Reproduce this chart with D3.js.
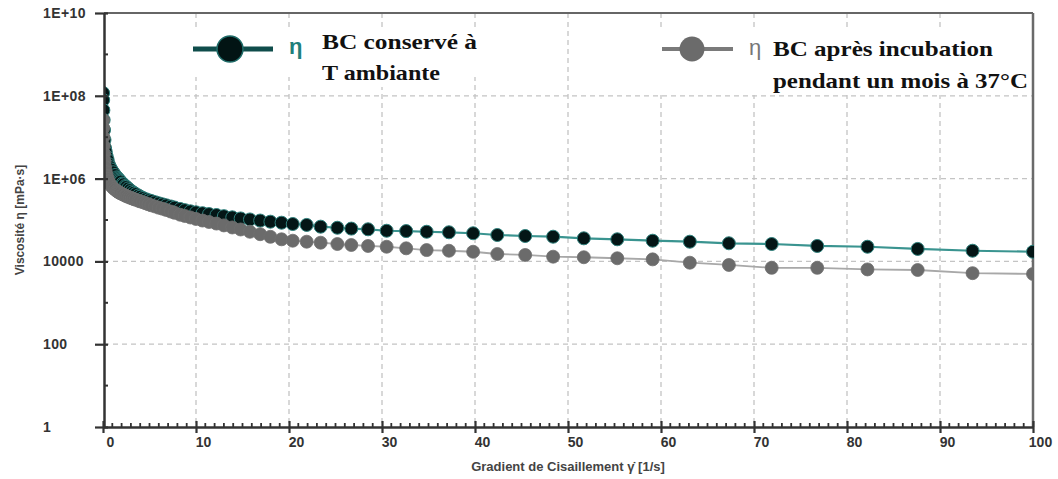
<!DOCTYPE html>
<html>
<head>
<meta charset="utf-8">
<script src="https://cdn.jsdelivr.net/npm/d3@7"></script>
<style>
  html, body { margin: 0; padding: 0; background: #fff; }
  svg { display: block; }
</style>
</head>
<body>
<svg id="chart" width="1058" height="479"></svg>
<script>
// Shear rate (1/s), shared by both flow curves
const shearRate = [0.01,0.02,0.04,0.07,0.11,0.16,0.22,0.3,0.4,0.5,0.6,0.75,0.9,
  1.1,1.3,1.5,1.6,1.7,1.8,1.9,2.1,2.2,2.4,2.5,2.7,2.9,3.1,3.3,3.5,3.8,4.0,4.3,4.6,4.9,
  5.2,5.6,6.0,6.4,6.8,7.3,7.7,8.3,8.8,9.4,10.0,10.7,11.4,12.2,13.0,13.9,14.8,15.8,16.9,
  18.0,19.2,20.4,21.9,23.4,25.2,26.7,28.5,30.5,32.6,34.8,37.2,39.8,42.4,45.4,48.4,51.7,
  55.3,59.1,63.1,67.3,71.9,76.8,82.2,87.6,93.5,100];

// Viscosity (mPa·s), BC stored at room temperature
const etaAmbient = [1.17e8,7.9e7,4.5e7,2.6e7,1.49e7,8.6e6,5.5e6,4.4e6,3.42e6,2.81e6,2.25e6,1.91e6,1.66e6,
  1.42e6,1.22e6,1.07e6,1.01e6,9.5e5,9.0e5,8.5e5,7.6e5,7.3e5,6.6e5,6.3e5,5.8e5,5.3e5,
  4.88e5,4.56e5,4.25e5,3.91e5,3.67e5,3.40e5,3.18e5,3.01e5,2.88e5,2.69e5,2.53e5,2.39e5,2.26e5,
  2.12e5,2.00e5,1.85e5,1.73e5,1.62e5,1.53e5,1.46e5,1.39e5,1.32e5,1.24e5,1.16e5,1.09e5,1.03e5,
  9.7e4,9.1e4,8.6e4,8.0e4,7.6e4,6.9e4,6.5e4,6.2e4,5.96e4,5.5e4,5.4e4,5.2e4,5.05e4,4.78e4,
  4.34e4,4.11e4,3.95e4,3.61e4,3.42e4,3.16e4,2.99e4,2.74e4,2.63e4,2.36e4,2.26e4,2.0e4,1.81e4,1.71e4];

// Viscosity (mPa·s), BC after one month of incubation at 37 °C
const etaIncubated = [2.6e7,1.67e7,1.01e7,6.1e6,3.93e6,2.66e6,1.91e6,1.44e6,1.16e6,9.8e5,8.5e5,7.4e5,6.6e5,
  5.9e5,5.4e5,5.0e5,4.85e5,4.69e5,4.54e5,4.42e5,4.2e5,4.08e5,3.88e5,3.80e5,3.63e5,3.48e5,
  3.34e5,3.21e5,3.09e5,2.92e5,2.81e5,2.68e5,2.53e5,2.39e5,2.26e5,2.12e5,1.98e5,1.87e5,1.75e5,
  1.60e5,1.49e5,1.34e5,1.25e5,1.15e5,1.06e5,9.7e4,8.95e4,8.2e4,7.4e4,6.6e4,5.9e4,5.2e4,
  4.54e4,3.93e4,3.42e4,3.16e4,2.99e4,2.83e4,2.63e4,2.49e4,2.36e4,2.26e4,2.07e4,1.88e4,1.81e4,
  1.71e4,1.51e4,1.43e4,1.30e4,1.26e4,1.19e4,1.12e4,9.3e3,8.2e3,7.0e3,7.0e3,6.4e3,6.2e3,5.2e3,4.97e3];

// Axis ticks
const yTickValues = [1, 1e2, 1e4, 1e6, 1e8, 1e10];
const yTickLabels = ["1", "100", "10000", "1E+06", "1E+08", "1E+10"];
const yMinorValues = [1e1, 1e3, 1e5, 1e7, 1e9];
const xTickValues = [0, 10, 20, 30, 40, 50, 60, 70, 80, 90, 100];
const xTickLabels = ["0", "10", "20", "30", "40", "50", "60", "70", "80", "90", "100"];

// Legend
const seriesNames = [["BC conservé à", "T ambiante"], ["BC après incubation", "pendant un mois à 37°C"]];
const xTitle = "Gradient de Cisaillement γ̇ [1/s]";
const yTitle = "Viscosité η [mPa·s]";

const svg = d3.select("#chart");
const L = 104, R = 1033, T = 13, B = 427;

const x = d3.scaleLinear().domain([0, 100]).range([L - 1, R]);
const y = d3.scaleLog().domain([1, 1e10]).range([B, T]);

const sans = "'Liberation Sans', Arial, sans-serif";
const serif = "'Liberation Serif', 'Times New Roman', serif";

// Grid
const grid = svg.append("g").attr("stroke", "#c4c4c4").attr("stroke-width", 1.3)
  .attr("stroke-dasharray", "5,4");
grid.selectAll("line.h").data(yTickValues.slice(1, -1)).join("line")
  .attr("x1", L).attr("x2", R).attr("y1", d => y(d)).attr("y2", d => y(d));
grid.selectAll("line.v").data(xTickValues.slice(1, -1)).join("line")
  .attr("y1", T).attr("y2", B).attr("x1", d => x(d)).attr("x2", d => x(d));

// Legend backgrounds (mask grid behind text)
svg.append("rect").attr("x", 186).attr("y", 28).attr("width", 294).attr("height", 49).attr("fill", "#fff");
svg.append("rect").attr("x", 318).attr("y", 60).attr("width", 125).attr("height", 27).attr("fill", "#fff");
svg.append("rect").attr("x", 655).attr("y", 27).attr("width", 376).attr("height", 68).attr("fill", "#fff");

// Frame: top and right
svg.append("line").attr("x1", L).attr("x2", R).attr("y1", T).attr("y2", T)
  .attr("stroke", "#666").attr("stroke-width", 2);
svg.append("line").attr("x1", R).attr("x2", R).attr("y1", T).attr("y2", B)
  .attr("stroke", "#6a6a6a").attr("stroke-width", 2.5);

// Clip for the curves
svg.append("clipPath").attr("id", "plotClip").append("rect")
  .attr("x", L).attr("y", T).attr("width", R - L + 1).attr("height", B - T);

const plot = svg.append("g").attr("clip-path", "url(#plotClip)");
const line = d3.line().x(d => x(d[0])).y(d => y(d[1]));

const ambient = shearRate.map((s, i) => [s, etaAmbient[i]]);
const incubated = shearRate.map((s, i) => [s, etaIncubated[i]]);

plot.append("path").datum(ambient).attr("d", line)
  .attr("fill", "none").attr("stroke", "#3a9490").attr("stroke-width", 2.2);
plot.append("g").selectAll("circle").data(ambient).join("circle")
  .attr("cx", d => x(d[0])).attr("cy", d => y(d[1])).attr("r", 6.5)
  .attr("fill", "#041616").attr("stroke", "#2e807c").attr("stroke-width", 1);

plot.append("path").datum(incubated).attr("d", line)
  .attr("fill", "none").attr("stroke", "#a8a8a8").attr("stroke-width", 1.8);
plot.append("g").selectAll("circle").data(incubated).join("circle")
  .attr("cx", d => x(d[0])).attr("cy", d => y(d[1])).attr("r", 6.5)
  .attr("fill", "#6b6b6b").attr("stroke", "#707070").attr("stroke-width", 0.8);

// Y axis
const yAxis = svg.append("g").attr("transform", `translate(${L},0)`)
  .call(d3.axisLeft(y).tickValues(yTickValues).tickFormat((d, i) => yTickLabels[i]).tickSizeOuter(0));
yAxis.select(".domain").attr("stroke", "#333").attr("stroke-width", 2.5);
yAxis.selectAll(".tick line").attr("x1", -9).attr("x2", 4).attr("stroke", "#333").attr("stroke-width", 2.2);
yAxis.selectAll(".tick text").attr("x", -61).attr("text-anchor", "start")
  .attr("font-family", sans).attr("font-size", 14).attr("font-weight", "bold")
  .attr("fill", "#333").attr("letter-spacing", 0.4);
svg.append("g").attr("transform", `translate(${L},0)`).selectAll("line").data(yMinorValues).join("line")
  .attr("x1", 0).attr("x2", 4).attr("y1", d => y(d)).attr("y2", d => y(d))
  .attr("stroke", "#333").attr("stroke-width", 2);

// X axis
const xAxis = svg.append("g").attr("transform", `translate(0,${B})`)
  .call(d3.axisBottom(x).tickValues(xTickValues).tickFormat((d, i) => xTickLabels[i]).tickSizeOuter(0));
xAxis.select(".domain").attr("stroke", "#333").attr("stroke-width", 2.5);
xAxis.selectAll(".tick line").attr("y1", -6).attr("y2", 6).attr("stroke", "#333").attr("stroke-width", 2.2);
xAxis.selectAll(".tick text").attr("y", 10).attr("dx", 7)
  .attr("font-family", sans).attr("font-size", 14).attr("font-weight", "bold")
  .attr("fill", "#333");
svg.append("g").attr("transform", `translate(0,${B})`).selectAll("line")
  .data(d3.range(0, 101).filter(v => v % 10 !== 0)).join("line")
  .attr("x1", d => x(d)).attr("x2", d => x(d)).attr("y1", -4).attr("y2", 0)
  .attr("stroke", "#333").attr("stroke-width", 1.8);

// Axis titles
svg.append("text").attr("x", 568).attr("y", 471).attr("text-anchor", "middle")
  .attr("font-family", sans).attr("font-size", 13).attr("font-weight", "bold").attr("fill", "#444")
  .text(xTitle);
svg.append("text").attr("transform", "translate(24,220) rotate(-90)").attr("text-anchor", "middle")
  .attr("font-family", sans).attr("font-size", 12).attr("font-weight", "bold").attr("fill", "#444")
  .text(yTitle);

// Legend
const lg1 = svg.append("g");
lg1.append("line").attr("x1", 193).attr("x2", 273).attr("y1", 49).attr("y2", 49)
  .attr("stroke", "#0f4d4b").attr("stroke-width", 5);
lg1.append("circle").attr("cx", 230).attr("cy", 49).attr("r", 13)
  .attr("fill", "#021414").attr("stroke", "#1f6b68").attr("stroke-width", 1.5);
lg1.append("text").attr("x", 289).attr("y", 54).attr("font-family", sans).attr("font-size", 22)
  .attr("font-weight", "bold").attr("fill", "#1f7f7b").text("η");
lg1.selectAll("text.n").data(seriesNames[0]).join("text")
  .attr("x", 322).attr("y", (d, i) => 49 + i * 31)
  .attr("font-family", serif).attr("font-size", 22).attr("font-weight", "bold").attr("fill", "#111")
  .attr("textLength", (d, i) => [155, 118][i]).attr("lengthAdjust", "spacingAndGlyphs")
  .text(d => d);

const lg2 = svg.append("g");
lg2.append("line").attr("x1", 662).attr("x2", 733).attr("y1", 49).attr("y2", 49)
  .attr("stroke", "#7a7a7a").attr("stroke-width", 4);
lg2.append("circle").attr("cx", 692).attr("cy", 49).attr("r", 12.5).attr("fill", "#6b6b6b");
lg2.append("text").attr("x", 749).attr("y", 55).attr("font-family", sans).attr("font-size", 22)
  .attr("fill", "#777").text("η");
lg2.selectAll("text.n").data(seriesNames[1]).join("text")
  .attr("x", 773).attr("y", (d, i) => 56 + i * 32)
  .attr("font-family", serif).attr("font-size", 22).attr("font-weight", "bold").attr("fill", "#111")
  .attr("textLength", (d, i) => [220, 255][i]).attr("lengthAdjust", "spacingAndGlyphs")
  .text(d => d);
</script>
</body>
</html>
